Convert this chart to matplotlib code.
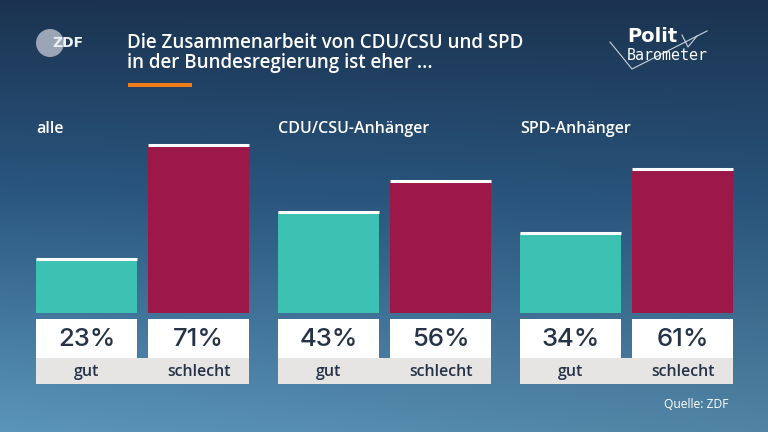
import numpy as np
import matplotlib
matplotlib.use("Agg")
import matplotlib.pyplot as plt
from matplotlib.patches import Rectangle

# ---- data ----
groups = ["alle", "CDU/CSU-Anhänger", "SPD-Anhänger"]
categories = ["gut", "schlecht"]
gut = [23, 43, 34]
schlecht = [71, 56, 61]
title_lines = ["Die Zusammenarbeit von CDU/CSU und SPD",
               "in der Bundesregierung ist eher ..."]
source = "Quelle: ZDF"

W, H = 768, 432
fig = plt.figure(figsize=(W / 100, H / 100), dpi=100)
plt.rcParams['font.family'] = ['Open Sans', 'DejaVu Sans']

# background gradient
bg = fig.add_axes([0, 0, 1, 1])
yy, xx = np.mgrid[0:1:200j, 0:1:300j]
top = np.array([0x1b, 0x33, 0x50]) / 255
mid = np.array([0x2a, 0x57, 0x80]) / 255
bot = np.array([0x5b, 0x95, 0xba]) / 255
t = yy[..., None]
col = np.where(t < 0.45, top + (mid - top) * (t / 0.45),
               mid + (bot - mid) * ((t - 0.45) / 0.55))
col = col * (1 - 0.12 * xx[..., None] * t)
bg.imshow(np.clip(col, 0, 1), extent=[0, W, H, 0], aspect='auto', interpolation='bilinear')
bg.set_xlim(0, W)
bg.set_ylim(H, 0)
bg.axis('off')

# overlay axes in pixel coords
ov = fig.add_axes([0, 0, 1, 1], zorder=3)
ov.set_xlim(0, W)
ov.set_ylim(H, 0)
ov.axis('off')
ov.patch.set_alpha(0)

# bar axes: percent scale
bar_bottom_px = 313
px_per_pct = 2.36
ax = fig.add_axes([0, 1 - bar_bottom_px / H, 1, 100 * px_per_pct / H], zorder=2)
ax.set_xlim(0, W)
ax.set_ylim(0, 100)
ax.axis('off')
ax.patch.set_alpha(0)

teal = "#3cc1b3"
maroon = "#9b1848"
ink = "#253247"
bar_w = 101
gap = 11
group_step = 242
x0 = 36
for i, g in enumerate(groups):
    gx = x0 + i * group_step
    xs = [gx + bar_w / 2, gx + bar_w + gap + bar_w / 2]
    vals = [gut[i], schlecht[i]]
    cols = [teal, maroon]
    for x, v, c in zip(xs, vals, cols):
        ax.bar(x, v, width=bar_w, color=c, linewidth=0)
        ax.plot([x - bar_w / 2, x + bar_w / 2], [v, v], color="white", lw=2.2,
                solid_capstyle='butt')
        # white value box
        ov.add_patch(Rectangle((x - bar_w / 2, 319), bar_w, 39, color="white", lw=0))
        ov.text(x, 339, f"{v}%", ha='center', va='center', fontsize=18.5,
                color=ink, family=['Inter', 'DejaVu Sans'], fontweight='medium')
    # gray label strip
    ov.add_patch(Rectangle((gx, 358), 2 * bar_w + gap, 26, color="#e6e5e4", lw=0))
    for x, c in zip(xs, categories):
        ov.text(x, 372, c, ha='center', va='center', fontsize=11.5,
                color=ink, fontweight='semibold')
    ov.text(gx, 129, g, ha='left', va='center', fontsize=11.5, color="white",
            fontweight='semibold')

# title (single two-line text)
ov.text(127, 53, "\n".join(title_lines), ha='left', va='center', fontsize=13.5,
        color="white", fontweight='semibold', linespacing=1.0)
ov.add_patch(Rectangle((128, 83), 64, 4, color="#f07d1a", lw=0))

# ZDF logo
ov.add_patch(plt.Circle((50, 43), 14, color="#9aa6b5", lw=0))
ov.text(68, 43, "ZDF", ha='center', va='center', fontsize=10, color="#eef1f4",
        fontweight='bold', family=['DejaVu Sans'])

# Politbarometer logo
ov.plot([610, 632, 707], [42, 69, 31], color="#c9d3de", lw=0.8)
ov.plot([682, 688, 697], [35, 47, 36], color="#c9d3de", lw=0.8)
ov.text(627, 36, "Polit", ha='left', va='center', fontsize=14, color="white",
        fontweight='bold', family=['DejaVu Sans'])
ov.text(627, 55, "Barometer", ha='left', va='center', fontsize=10.8, color="white",
        family=['DejaVu Sans Mono', 'DejaVu Sans'])

# source
ov.text(729, 404, source, ha='right', va='center', fontsize=8.7, color="white")

fig.savefig("out.png", dpi=100)
